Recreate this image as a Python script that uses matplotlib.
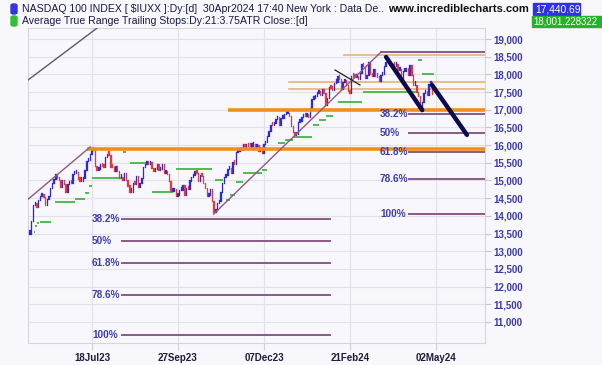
import numpy as np
import matplotlib.pyplot as plt
from matplotlib.patches import Rectangle, FancyBboxPatch

plt.rcParams['font.family'] = ['Liberation Sans', 'DejaVu Sans']

# NASDAQ 100 daily closes, 24May2023 .. 30Apr2024 (one per trading day)
closes = [
    # May 23
    13500, 13850, 14300, 14350, 14250,
    # Jun 23
    14450, 14550, 14550, 14540, 14300, 14480, 14550, 14800, 14930, 15030, 15185,
    15080, 15020, 14810, 15000, 14890, 14680, 14900, 14950, 14930, 15180,
    # Jul 23
    15200, 15230, 15040, 15000, 15000, 15080, 15300, 15560, 15570, 15740, 15870,
    15900, 15400, 15300, 15330, 15460, 15400, 15370, 15660, 15760,
    # Aug 23
    15730, 15390, 15370, 15270, 15400, 15260, 15080, 15100, 15010, 15200, 15020,
    14860, 14690, 14690, 14940, 14900, 15140, 14820, 14940, 15060, 15380, 15460, 15500,
    # Sep 23
    15460, 15520, 15350, 15260, 15320, 15460, 15300, 15340, 15480, 15200, 15220,
    15190, 14980, 14700, 14700, 14770, 14550, 14590, 14720, 14720,
    # Oct 23
    14860, 14590, 14800, 14760, 15000, 15090, 15160, 15260, 15200, 15000, 15150,
    15120, 14930, 14790, 14560, 14590, 14770, 14410, 14110, 14180, 14360, 14410,
    # Nov 23
    14670, 14930, 15100, 15160, 15320, 15340, 15200, 15530, 15480, 15810, 15830,
    15890, 15850, 16030, 15940, 16000, 15980, 15960, 15990, 15990, 15950,
    # Dec 23
    15990, 15840, 15940, 15780, 16020, 16080, 16250, 16400, 16570, 16560, 16620,
    16730, 16800, 16560, 16760, 16780, 16880, 16900, 16900, 16830,
    # Jan 24
    16540, 16370, 16280, 16310, 16650, 16690, 16800, 16850, 16830, 16880, 16800,
    17050, 17310, 17340, 17400, 17470, 17520, 17420, 17600, 17480, 17140,
    # Feb 24
    17340, 17640, 17610, 17570, 17770, 17780, 17960, 17880, 17600, 17780, 17850,
    17690, 17540, 17480, 17960, 17940, 17930, 17960, 17870, 18040,
    # Mar 24
    18300, 18230, 17900, 17990, 18340, 18020, 17950, 18150, 17960, 17940, 17810,
    17980, 18020, 18240, 18340, 18340, 18280, 18210, 18280, 18250,
    # Apr 24
    18300, 18120, 18160, 17880, 18100, 18100, 18180, 17990, 18270, 17990, 17710,
    17710, 17490, 17390, 17040, 17210, 17470, 17530, 17430, 17720, 17780, 17440,
]

tick_idx = [36, 86, 136, 186, 236]
tick_labels = ['18Jul23', '27Sep23', '07Dec23', '21Feb24', '02May24']

# ATR trailing stop pieces: start day, end day, level
stop_start = [2, 3, 4, 6, 14.5, 26, 32, 34, 36, 54, 58, 71, 85, 107.5, 114, 116, 120, 124,
              135, 144, 148, 153, 164.5, 168, 172, 179, 193.5, 225.5, 228]
stop_end = [3, 4, 5, 12, 26, 32, 34, 36, 53, 56, 68, 83, 106, 112, 116, 119, 124, 135,
            138, 148, 153, 164, 168, 172, 176, 193, 225, 228, 235]
stop_level = [13550, 13700, 13800, 13830, 14400, 14480, 14650, 14850, 15070, 15800, 15500,
              14680, 15330, 15010, 14450, 14600, 14960, 15210, 15300, 16060, 16150, 16230,
              16570, 16700, 16820, 17220, 17500, 18400, 18000]

fib_ratios = [0.382, 0.5, 0.618, 0.786, 1.0]
fib_names = ['38.2%', '50%', '61.8%', '78.6%', '100%']
fib_left = dict(high=15950, low=10630, x0=53.4, x1=174.6, lab=36)
fib_right = dict(high=18630, low=14050, x0=220.3, x1=264.5, lab=203.5)

orange_levels = [15900, 17000]
orange_from = [33, 115]
tan_levels = [18550, 17780, 17590]
tan_from = [182.7, 150.8, 150.8]

fig = plt.figure(figsize=(6.02, 3.65), dpi=100)
fig.patch.set_facecolor('#f8f7fb')
ax = fig.add_axes([28 / 602, 1 - 343 / 365, (485 - 28) / 602, (343 - 28) / 365])
ax.set_facecolor('#f8f7fb')

x_end = 264.5
ax.set_xlim(-1.2, x_end)
ax.set_ylim(10406, 19311)

c = np.array(closes, dtype=float)
o = np.r_[c[0], c[:-1]]
idx = np.arange(len(c))
up = c >= o
body = np.maximum(np.abs(c - o), 90)
lo = np.minimum(o, c) - 30
ax.bar(idx[up], body[up] + 30, bottom=lo[up], width=0.8, color='#2a2ad8',
       edgecolor='#2a2ad8', lw=0.2, zorder=3)
ax.bar(idx[~up], body[~up] + 30, bottom=lo[~up], width=0.8, color='#e23a3a',
       edgecolor='#e23a3a', lw=0.2, zorder=3)

for s, e, v in zip(stop_start, stop_end, stop_level):
    ax.plot([s, e], [v, v], color='#40b840', lw=1.3, zorder=2, solid_capstyle='butt')

for lv, f in zip(orange_levels, orange_from):
    ax.plot([f, x_end], [lv, lv], color='#f0901c', lw=2.6, zorder=4, solid_capstyle='butt')
for lv, f in zip(tan_levels, tan_from):
    ax.plot([f, x_end], [lv, lv], color='#e6b678', lw=1.2, zorder=2)

purple = '#8a5a86'
for fb in (fib_left, fib_right):
    rng = fb['high'] - fb['low']
    for r, name in zip(fib_ratios, fib_names):
        lv = fb['high'] - r * rng
        ax.plot([fb['x0'], fb['x1']], [lv, lv], color=purple, lw=1.4, zorder=4)
        ax.text(fb['lab'], lv, name, color='#3d3db0', fontsize=7.2, fontweight='bold',
                va='center', ha='left', zorder=5)

# Fibonacci anchor lines and drawn trend lines
ax.plot([-95, 35], [10630, 15950], color=purple, lw=1.0, zorder=4)
ax.plot([106.7, 204], [14050, 18630], color=purple, lw=1.0, zorder=4)
ax.plot([204, x_end], [18630, 18630], color=purple, lw=1.4, zorder=4)
ax.plot([-1.2, 39], [17840, 19310], color='#5a5a6e', lw=1.0, zorder=4)
ax.plot([177.3, 191.8], [18124, 17700], color='#202020', lw=0.9, zorder=5)
ax.plot([207, 228], [18490, 16990], color='#0c0c4c', lw=3.2, zorder=6, solid_capstyle='round')
ax.plot([233.7, 254], [17700, 16290], color='#0c0c4c', lw=3.2, zorder=6, solid_capstyle='round')

ax.set_yticks(np.arange(11000, 19001, 500))
ax.set_yticklabels([f'{v:,}' for v in range(11000, 19001, 500)])
ax.set_xticks(tick_idx)
ax.set_xticklabels(tick_labels)
ax.yaxis.tick_right()
ax.tick_params(axis='y', length=4, color='#c8c6d0', labelsize=7, labelcolor='#3a3aa8', pad=2)
ax.tick_params(axis='x', length=5, color='#d0ced8', labelsize=7, labelcolor='#1c1c3c', pad=2)
for lab in ax.get_xticklabels() + ax.get_yticklabels():
    lab.set_fontweight('bold')
ax.grid(True, color='#e2e0e8', lw=0.8, zorder=0)
for sp in ax.spines.values():
    sp.set_color('#d6d4dc')
    sp.set_linewidth(0.8)

# header
def fx(px):
    return px / 602
def fy(py):
    return 1 - py / 365

fig.patches.append(FancyBboxPatch((fx(11), fy(14)), fx(6), 10 / 365, boxstyle='round,pad=0,rounding_size=0.004',
                                  transform=fig.transFigure, color='#3434e0'))
fig.patches.append(FancyBboxPatch((fx(11), fy(26)), fx(6), 10 / 365, boxstyle='round,pad=0,rounding_size=0.004',
                                  transform=fig.transFigure, color='#34c034'))
fig.text(fx(22), fy(9), 'NASDAQ 100 INDEX [ $IUXX ]:Dy:[d]  30Apr2024 17:40 New York : Data De..',
         fontsize=7.6, color='#1a1a48', va='center', ha='left')
fig.text(fx(22), fy(21), 'Average True Range Trailing Stops:Dy:21:3.75ATR Close::[d]',
         fontsize=7.6, color='#1a1a48', va='center', ha='left')
fig.text(fx(388), fy(9), 'www.incrediblecharts.com', fontsize=8, fontweight='bold',
         color='#111111', va='center', ha='left')
fig.patches.append(Rectangle((fx(533), fy(15)), fx(47), 12 / 365, transform=fig.transFigure,
                             color='#3030e8'))
fig.patches.append(Rectangle((fx(532), fy(27)), fx(70), 11 / 365, transform=fig.transFigure,
                             color='#22b422'))
fig.text(fx(535), fy(9), '17,440.69', fontsize=7.4, color='white', va='center', ha='left')
fig.text(fx(533), fy(21.5), '18,001.228322', fontsize=6.9, color='white', va='center', ha='left')

fig.savefig('out.png', dpi=100, facecolor=fig.get_facecolor())
